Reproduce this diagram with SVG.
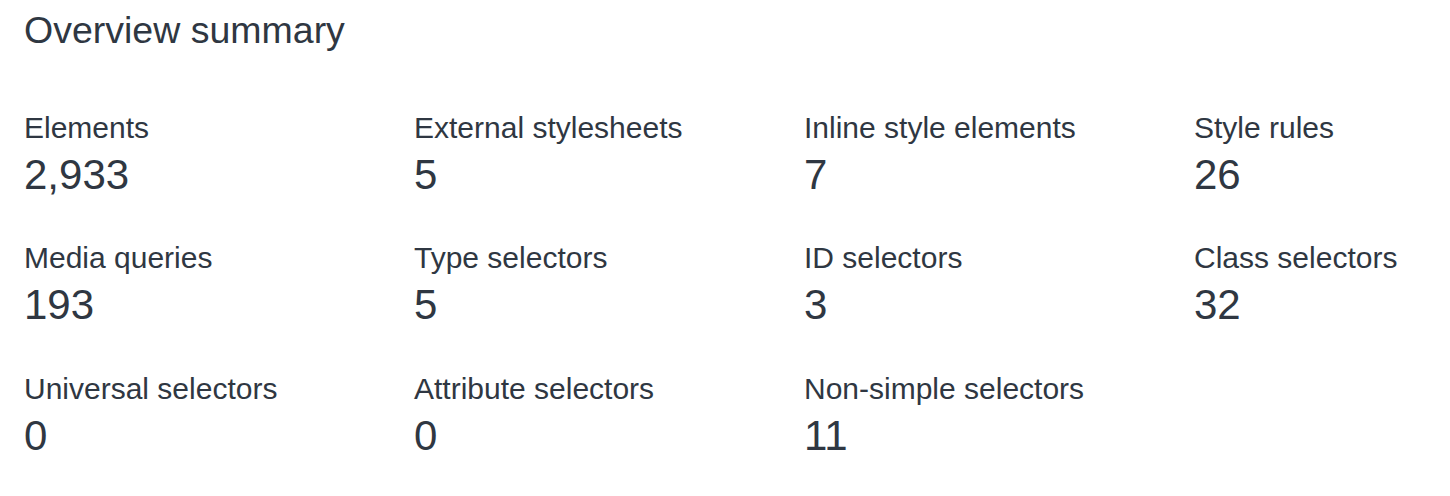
<svg xmlns="http://www.w3.org/2000/svg" width="1450" height="496" viewBox="0 0 1450 496">
<style>
text{font-family:"Liberation Sans",Arial,Helvetica,sans-serif;fill:#2f3742}
.t{font-size:37.5px}
.l{font-size:30px}
.v{font-size:42px}
</style>
<rect width="1450" height="496" fill="#ffffff"/>
<text id="title" class="t" x="24" y="43">Overview summary</text>
<g id="elements"><text class="l" x="24" y="138">Elements</text><text class="v" x="24" y="189">2,933</text></g>
<g id="external-stylesheets"><text class="l" x="414" y="138">External stylesheets</text><text class="v" x="414" y="189">5</text></g>
<g id="inline-style-elements"><text class="l" x="804" y="138">Inline style elements</text><text class="v" x="804" y="189">7</text></g>
<g id="style-rules"><text class="l" x="1194" y="138">Style rules</text><text class="v" x="1194" y="189">26</text></g>
<g id="media-queries"><text class="l" x="24" y="268">Media queries</text><text class="v" x="24" y="319">193</text></g>
<g id="type-selectors"><text class="l" x="414" y="268">Type selectors</text><text class="v" x="414" y="319">5</text></g>
<g id="id-selectors"><text class="l" x="804" y="268">ID selectors</text><text class="v" x="804" y="319">3</text></g>
<g id="class-selectors"><text class="l" x="1194" y="268">Class selectors</text><text class="v" x="1194" y="319">32</text></g>
<g id="universal-selectors"><text class="l" x="24" y="399">Universal selectors</text><text class="v" x="24" y="450">0</text></g>
<g id="attribute-selectors"><text class="l" x="414" y="399">Attribute selectors</text><text class="v" x="414" y="450">0</text></g>
<g id="non-simple-selectors"><text class="l" x="804" y="399">Non-simple selectors</text><text class="v" x="804" y="450">11</text></g>
<g id="connectors"></g>
</svg>
